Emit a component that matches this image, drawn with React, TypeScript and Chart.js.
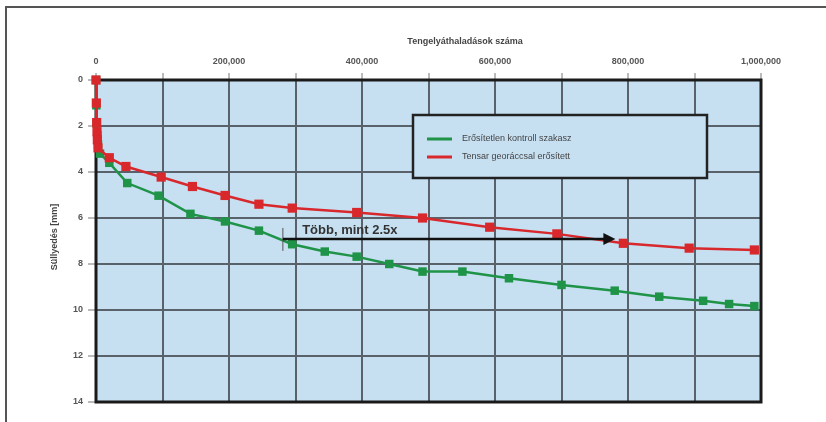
import React, { useEffect, useRef } from "react";
import { Chart, registerables } from "chart.js";

Chart.register(...registerables);

const xTitle = "Tengelyáthaladások száma";
const yTitle = "Süllyedés [mm]";
const seriesNames = ["Erősítetlen kontroll szakasz", "Tensar georáccsal erősített"];

const greenX = [0, 500, 1000, 2000, 3000, 6000, 20000, 47000, 94000, 142000, 194000, 245000, 295000, 344000, 392000, 441000, 491000, 551000, 621000, 700000, 780000, 847000, 913000, 952000, 990000];
const greenY = [0, 1.1, 1.9, 2.4, 2.8, 3.2, 3.6, 4.48, 5.03, 5.82, 6.15, 6.55, 7.14, 7.46, 7.68, 8.0, 8.33, 8.33, 8.62, 8.91, 9.16, 9.42, 9.6, 9.74, 9.83];

const redX = [0, 500, 1000, 1500, 2000, 3000, 20000, 45000, 98000, 145000, 194000, 245000, 295000, 392000, 491000, 592000, 693000, 793000, 892000, 990000];
const redY = [0, 1.0, 1.85, 2.25, 2.6, 2.95, 3.38, 3.76, 4.22, 4.63, 5.02, 5.4, 5.57, 5.76, 6.0, 6.4, 6.69, 7.1, 7.31, 7.39];

const annotationText = "Több, mint 2.5x";
const arrowFromX = 281000;
const arrowToX = 781000;
const arrowY = 6.91;
const annotationTextX = 310000;
const annotationTextY = 6.7;

const GREEN = "#1f9347";
const RED = "#d8282c";
const FONT = "'Liberation Sans', Arial, sans-serif";

const decor = {
  id: "decor",
  beforeDraw(chart: any) {
    const { ctx, chartArea: a } = chart;
    ctx.save();
    ctx.fillStyle = "#ffffff";
    ctx.fillRect(0, 0, chart.width, chart.height);
    ctx.strokeStyle = "#555";
    ctx.lineWidth = 2;
    ctx.beginPath();
    ctx.moveTo(6, 430);
    ctx.lineTo(6, 7);
    ctx.lineTo(830, 7);
    ctx.stroke();
    ctx.fillStyle = "#c6e0f2";
    ctx.fillRect(a.left, a.top, a.right - a.left, a.bottom - a.top);
    ctx.restore();
  },
  beforeDatasetsDraw(chart: any) {
    const { ctx, chartArea: a } = chart;
    ctx.save();
    ctx.strokeStyle = "#1a1a1a";
    ctx.lineWidth = 3;
    ctx.strokeRect(a.left, a.top, a.right - a.left, a.bottom - a.top);
    ctx.restore();
  },
  afterDraw(chart: any) {
    const { ctx, scales } = chart;
    const xs = scales.x;
    const ys = scales.y;
    ctx.save();
    ctx.fillStyle = "#444";
    ctx.font = `bold 9px ${FONT}`;
    ctx.textAlign = "center";
    ctx.textBaseline = "middle";
    ctx.fillText(xTitle, 465, 42);
    ctx.save();
    ctx.translate(55, 237);
    ctx.rotate(-Math.PI / 2);
    ctx.fillText(yTitle, 0, 0);
    ctx.restore();

    const lx = 413, ly = 115, lw = 294, lh = 63;
    ctx.fillStyle = "#c6e0f2";
    ctx.fillRect(lx, ly, lw, lh);
    ctx.strokeStyle = "#222";
    ctx.lineWidth = 2.5;
    ctx.strokeRect(lx, ly, lw, lh);
    const colors = [GREEN, RED];
    const rows = [139, 157];
    ctx.font = `9px ${FONT}`;
    ctx.textAlign = "left";
    for (let i = 0; i < 2; i++) {
      ctx.strokeStyle = colors[i];
      ctx.lineWidth = 3;
      ctx.beginPath();
      ctx.moveTo(427, rows[i]);
      ctx.lineTo(452, rows[i]);
      ctx.stroke();
      ctx.fillStyle = "#444";
      ctx.fillText(seriesNames[i], 462, rows[i]);
    }

    const x0 = xs.getPixelForValue(arrowFromX);
    const x1 = xs.getPixelForValue(arrowToX);
    const y = ys.getPixelForValue(arrowY);
    ctx.strokeStyle = "#555";
    ctx.lineWidth = 1;
    ctx.beginPath();
    ctx.moveTo(x0, y - 11);
    ctx.lineTo(x0, y + 12);
    ctx.stroke();
    ctx.strokeStyle = "#111";
    ctx.lineWidth = 2.5;
    ctx.beginPath();
    ctx.moveTo(x0, y);
    ctx.lineTo(x1 - 10, y);
    ctx.stroke();
    ctx.fillStyle = "#111";
    ctx.beginPath();
    ctx.moveTo(x1, y);
    ctx.lineTo(x1 - 12, y - 6);
    ctx.lineTo(x1 - 12, y + 6);
    ctx.closePath();
    ctx.fill();
    ctx.font = `bold 13px ${FONT}`;
    ctx.fillStyle = "#333";
    ctx.textAlign = "left";
    ctx.textBaseline = "alphabetic";
    ctx.fillText(annotationText, xs.getPixelForValue(annotationTextX), ys.getPixelForValue(annotationTextY));
    ctx.restore();
  },
};

export default function App() {
  const ref = useRef<HTMLCanvasElement | null>(null);
  useEffect(() => {
    if (!ref.current) return;
    const chart = new Chart(ref.current, {
      type: "line",
      data: {
        datasets: [
          {
            label: seriesNames[1],
            data: redX.map((x, i) => ({ x, y: redY[i] })),
            borderColor: RED,
            backgroundColor: RED,
            borderWidth: 2.5,
            pointStyle: "rect",
            pointRadius: 6.5,
            pointBorderWidth: 0,
            tension: 0,
            clip: false,
            order: 0,
          },
          {
            label: seriesNames[0],
            data: greenX.map((x, i) => ({ x, y: greenY[i] })),
            borderColor: GREEN,
            backgroundColor: GREEN,
            borderWidth: 2.5,
            pointStyle: "rect",
            pointRadius: 6,
            pointBorderWidth: 0,
            tension: 0,
            clip: false,
            order: 1,
          },
        ],
      },
      options: {
        animation: false,
        responsive: false,
        maintainAspectRatio: false,
        layout: { padding: { left: 0, top: 0, right: 65, bottom: 20 } },
        plugins: { legend: { display: false }, tooltip: { enabled: false } },
        scales: {
          x: {
            type: "linear",
            position: "top",
            min: 0,
            max: 1000000,
            afterFit: (s: any) => {
              s.height = 80;
            },
            ticks: {
              stepSize: 100000,
              autoSkip: false,
              maxRotation: 0,
              padding: 6,
              color: "#555",
              font: { family: FONT, size: 9, weight: "bold" },
              callback: (v: any) => (Number(v) % 200000 === 0 ? Number(v).toLocaleString("en-US") : ""),
            },
            grid: { color: "#59626b", lineWidth: 2, tickLength: 7, tickColor: "#777", tickWidth: 1 },
            border: { display: false },
          },
          y: {
            type: "linear",
            reverse: true,
            min: 0,
            max: 14,
            afterFit: (s: any) => {
              s.width = 96;
            },
            ticks: {
              stepSize: 2,
              padding: 5,
              color: "#555",
              font: { family: FONT, size: 9, weight: "bold" },
            },
            grid: { color: "#59626b", lineWidth: 2, tickLength: 8, tickColor: "#777", tickWidth: 1 },
            border: { display: false },
          },
        },
      },
      plugins: [decor],
    });
    return () => chart.destroy();
  }, []);
  return (
    <div style={{ position: "fixed", left: 0, top: 0, width: 826, height: 422, overflow: "hidden", background: "#fff" }}>
      <canvas ref={ref} width={826} height={422} style={{ display: "block", width: 826, height: 422 }} />
    </div>
  );
}
